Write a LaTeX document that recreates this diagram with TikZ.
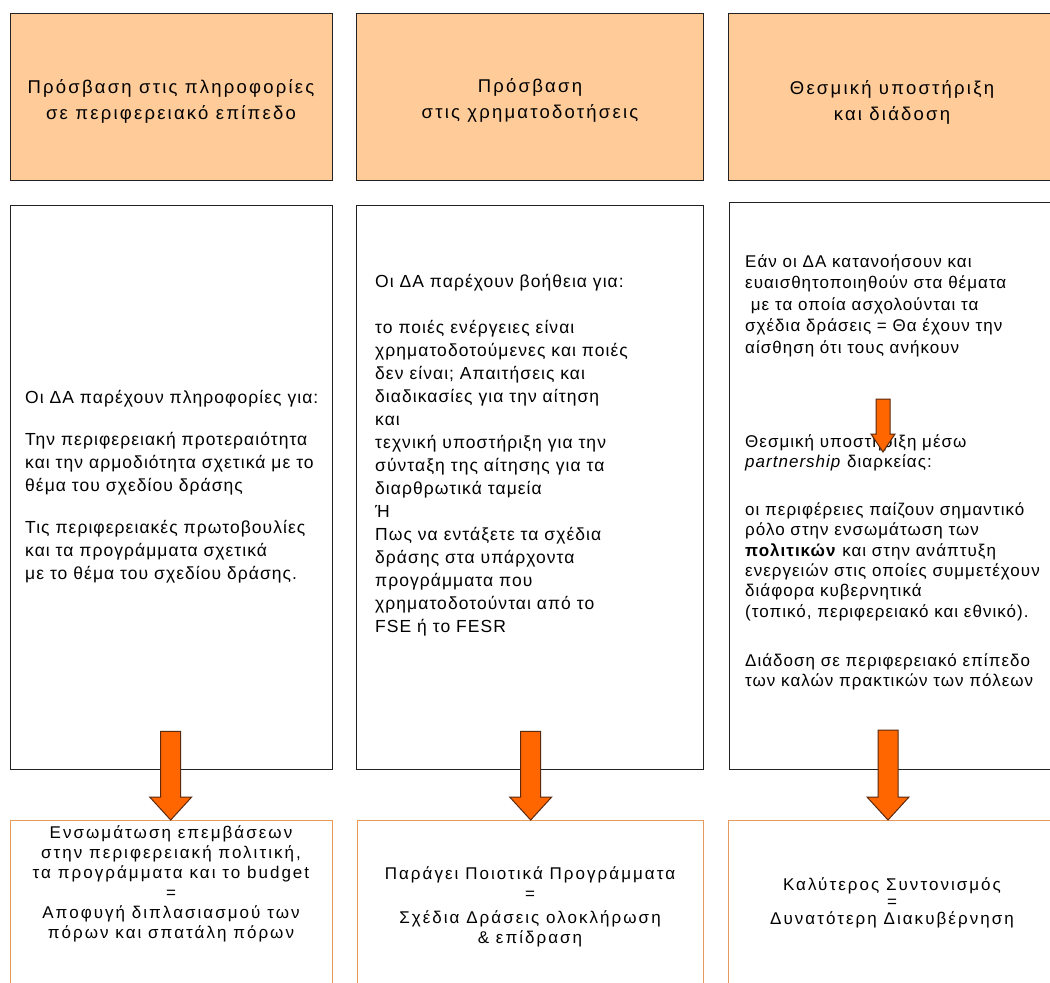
\documentclass[tikz,border=0pt]{standalone}
\usepackage{fontspec}
\setmainfont{Liberation Sans}
\usetikzlibrary{calc}
\definecolor{peach}{HTML}{FFCC99}
\definecolor{arroworange}{HTML}{FF6600}
\definecolor{arrowedge}{HTML}{5A2A10}
\definecolor{outboxedge}{HTML}{E89A5A}
\definecolor{boxedge}{HTML}{222222}
\newcommand{\blkarrow}[5]{%
  \draw[blockarrow] ($(#1)+(-#3,0)$) -- ($(#1)+(#3,0)$) -- ($(#2)+(#3,-#5)$) -- ($(#2)+(#4,-#5)$) -- (#2)
    -- ($(#2)+(-#4,-#5)$) -- ($(#2)+(-#3,-#5)$) -- cycle;}
\begin{document}
\begin{tikzpicture}[x=1pt,y=-1pt,
  headbox/.style={draw=boxedge, fill=peach, line width=1.4pt, anchor=north west},
  headtext/.style={align=center, inner sep=0pt,
    font=\fontsize{18.5}{26}\selectfont\addfontfeatures{LetterSpace=12}},
  midbox/.style={draw=boxedge, fill=white, line width=1.4pt, anchor=north west},
  outbox/.style={draw=outboxedge, fill=white, line width=1.4pt, anchor=north west},
  boxtext/.style={font=\fontsize{17.5}{23}\selectfont\addfontfeatures{LetterSpace=6}, align=left, anchor=north west, inner sep=0pt},
  smalltext/.style={font=\fontsize{17}{21.5}\selectfont\addfontfeatures{LetterSpace=6}, align=left, anchor=north west, inner sep=0pt},
  outtext/.style={font=\fontsize{17}{20}\selectfont\addfontfeatures{LetterSpace=12}, align=center, anchor=center, inner sep=0pt},
  blockarrow/.style={fill=arroworange, draw=arrowedge, line width=1pt, line join=miter},
]
\useasboundingbox (0,0) rectangle (1050,983);
\clip (0,0) rectangle (1050,983);
\fill[white] (0,0) rectangle (1050,983);

% header boxes
\node[headbox, minimum width=322, minimum height=167] (t1) at (10,13) {};
\node[headbox, minimum width=347, minimum height=167] (t2) at (356,13) {};
\node[headbox, minimum width=340, minimum height=167] (t3) at (728,13) {};
\node[headtext] (t1text) at (171,101) {Πρόσβαση στις πληροφορίες\\σε περιφερειακό επίπεδο};
\node[headtext] (t2text) at (530,100) {Πρόσβαση\\στις χρηματοδοτήσεις};
\node[headtext] (t3text) at (892,102) {Θεσμική υποστήριξη\\και διάδοση};

% middle boxes
\node[midbox, minimum width=322, minimum height=564] (m1) at (10,205) {};
\node[midbox, minimum width=347, minimum height=564] (m2) at (356,205) {};
\node[midbox, minimum width=340, minimum height=567] (m3) at (729,202) {};

% bottom boxes
\node[outbox, minimum width=322, minimum height=180] (b1) at (10,820) {};
\node[outbox, minimum width=346, minimum height=180] (b2) at (357,820) {};
\node[outbox, minimum width=340, minimum height=180] (b3) at (728,820) {};

% middle texts
\node[boxtext] (m1text) at (25,390) {Οι ΔΑ παρέχουν πληροφορίες για:\\[19pt]
Την περιφερειακή προτεραιότητα\\
και την αρμοδιότητα σχετικά με το\\
θέμα του σχεδίου δράσης\\[19pt]
Τις περιφερειακές πρωτοβουλίες\\
και τα προγράμματα σχετικά\\
με το θέμα του σχεδίου δράσης.};

\node[boxtext] (m2text) at (375,274) {Οι ΔΑ παρέχουν βοήθεια για:\\[23pt]
το ποιές ενέργειες είναι\\
χρηματοδοτούμενες και ποιές\\
δεν είναι; Απαιτήσεις και\\
διαδικασίες για την αίτηση\\
και\\
τεχνική υποστήριξη για  την\\
σύνταξη της αίτησης για τα\\
διαρθρωτικά ταμεία\\
Ή\\
Πως να εντάξετε τα σχέδια\\
δράσης στα υπάρχοντα\\
προγράμματα που\\
χρηματοδοτούνται από το\\
FSE ή το FESR};

\node[smalltext] (m3texta) at (745,254) {Εάν οι ΔΑ κατανοήσουν και\\
ευαισθητοποιηθούν στα θέματα\\
\ με τα οποία ασχολούνται τα\\
σχέδια δράσεις =  Θα έχουν την\\
αίσθηση ότι τους ανήκουν};

\node[smalltext, font=\fontsize{17}{20.3}\selectfont\addfontfeatures{LetterSpace=6}] (m3textb) at (745,434) {Θεσμική υποστήριξη μέσω\\
\textit{partnership} διαρκείας:\\[28pt]
οι περιφέρειες παίζουν σημαντικό\\
ρόλο στην ενσωμάτωση των\\
\textbf{πολιτικών} και στην  ανάπτυξη\\
ενεργειών  στις οποίες συμμετέχουν\\
διάφορα κυβερνητικά\\
(τοπικό, περιφερειακό και εθνικό).\\[29pt]
Διάδοση σε περιφερειακό επίπεδο\\
των καλών πρακτικών των πόλεων};

% bottom texts
\node[outtext] (b1text) at (171,884) {Ενσωμάτωση επεμβάσεων\\
στην περιφερειακή πολιτική,\\
τα προγράμματα και το budget\\
=\\
Αποφυγή διπλασιασμού των\\
πόρων και  σπατάλη πόρων};
\node[outtext] (b2text) at (530,907) {Παράγει  Ποιοτικά Προγράμματα\\
=\\[4pt]
Σχέδια Δράσεις ολοκλήρωση\\
\& επίδραση};
\node[outtext] (b3text) at (892,903) {Καλύτερος Συντονισμός\\[-3pt]
=\\[-3pt]
Δυνατότερη Διακυβέρνηση};

% block arrows
\coordinate (a1s) at ($(m1.south)+(-1,-39)$);
\coordinate (a1t) at ($(b1.north)+(-1,0)$);
\coordinate (a2s) at ($(m2.south)+(0.5,-39)$);
\coordinate (a2t) at ($(b2.north)+(0,0)$);
\coordinate (a3s) at (888,730);
\coordinate (a3t) at (888,820);
\coordinate (a4s) at (883,399);
\coordinate (a4t) at (883,452);
\blkarrow{a1s}{a1t}{10}{21}{23}
\blkarrow{a2s}{a2t}{10}{21}{23}
\blkarrow{a3s}{a3t}{10}{21}{23}
\blkarrow{a4s}{a4t}{7}{12}{18}
\end{tikzpicture}
\end{document}
